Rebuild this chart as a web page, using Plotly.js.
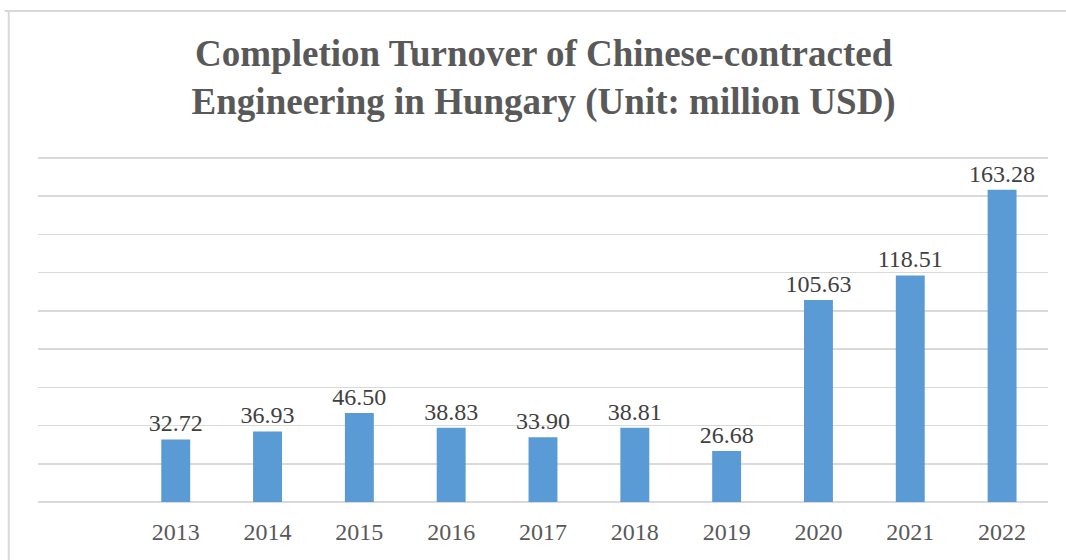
<!DOCTYPE html>
<html>
<head>
    <script src="https://cdn.plot.ly/plotly-3.0.1.min.js"></script>
    <style>
        html, body { margin: 0; padding: 0; background: #ffffff; }
        #chart { width: 1066px; height: 560px; }
    </style>
</head>
<body>
    <div id="chart"></div>
    <script>
        // Completion turnover, million USD
        const years = ['2013', '2014', '2015', '2016', '2017', '2018', '2019', '2020', '2021', '2022'];
        const turnover = [32.72, 36.93, 46.50, 38.83, 33.90, 38.81, 26.68, 105.63, 118.51, 163.28];
        const labels = turnover.map(v => v.toFixed(2));

        const serif = 'Liberation Serif, Times New Roman, serif';

        const data = [{
            type: 'bar',
            x: years,
            y: turnover,
            text: labels,
            textposition: 'outside',
            constraintext: 'none',
            cliponaxis: false,
            textfont: {family: serif, size: 24, color: '#404040'},
            marker: {color: '#5B9BD5'},
            width: 0.315,
            hoverinfo: 'x+y'
        }];

        const layout = {
            width: 1066,
            height: 560,
            margin: {l: 38, r: 18, t: 156, b: 58},
            paper_bgcolor: '#ffffff',
            plot_bgcolor: '#ffffff',
            showlegend: false,
            title: {
                text: 'Completion Turnover of Chinese-contracted<br>Engineering in Hungary (Unit: million USD)',
                font: {family: serif, size: 37, color: '#595959', weight: 'bold'},
                x: 0.51,
                xanchor: 'center',
                y: 0.882,
                yanchor: 'middle'
            },
            xaxis: {
                type: 'category',
                range: [-1.5, 9.5],
                showgrid: false,
                showline: false,
                ticks: 'outside',
                ticklen: 8,
                tickcolor: 'rgba(0,0,0,0)',
                tickfont: {family: serif, size: 24, color: '#595959'},
                fixedrange: true
            },
            yaxis: {
                range: [0, 181],
                tick0: 0,
                dtick: 20,
                showgrid: true,
                gridcolor: '#d9d9d9',
                gridwidth: 1.5,
                zeroline: true,
                zerolinecolor: '#d9d9d9',
                zerolinewidth: 1.5,
                showticklabels: false,
                ticks: '',
                fixedrange: true
            },
            shapes: [
                // outer frame (top and left edges)
                {type: 'line', xref: 'paper', yref: 'paper', x0: -0.033, x1: 1.02, y0: 1.419, y1: 1.419,
                 line: {color: '#d9d9d9', width: 2}},
                {type: 'line', xref: 'paper', yref: 'paper', x0: -0.029, x1: -0.029, y0: -0.2, y1: 1.419,
                 line: {color: '#d9d9d9', width: 2}}
            ]
        };

        Plotly.newPlot('chart', data, layout, {displayModeBar: false, staticPlot: true});
    </script>
</body>
</html>
